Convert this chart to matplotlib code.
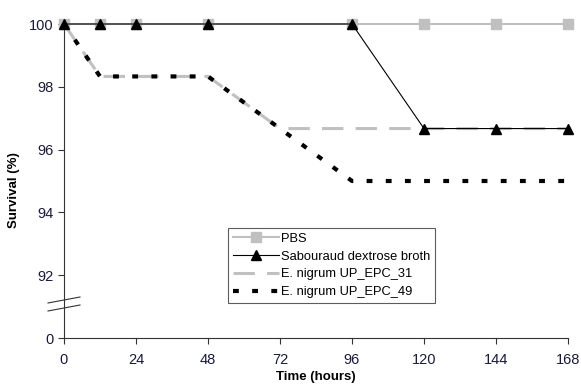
import matplotlib
matplotlib.use("Agg")
import matplotlib.pyplot as plt

plt.rcParams["font.family"] = ["Liberation Sans", "DejaVu Sans"]

# data
time_a = [0, 12, 24, 48, 96, 120, 144, 168]
pbs = [100, 100, 100, 100, 100, 100, 100, 100]
sabouraud = [100, 100, 100, 100, 100, 96.67, 96.67, 96.67]

time_b = [0, 12, 48, 72, 96, 120, 144, 168]
epc_31 = [100, 98.33, 98.33, 96.67, 96.67, 96.67, 96.67, 96.67]
epc_49 = [100, 98.33, 98.33, 96.67, 95.0, 95.0, 95.0, 95.0]

x_ticks = [0, 24, 48, 72, 96, 120, 144, 168]
y_ticks = [90, 92, 94, 96, 98, 100]
y_tick_labels = ["0", "92", "94", "96", "98", "100"]

fig = plt.figure(figsize=(5.81, 3.91), dpi=100)
ax = fig.add_axes([64 / 581, 1 - 338 / 391, 504 / 581, 314 / 391])

ax.plot(time_a, pbs, color="#c0c0c0", lw=1.5, marker="s", ms=7,
        mfc="#c0c0c0", mec="#c0c0c0", label="PBS", clip_on=False, zorder=3)
ax.plot(time_a, sabouraud, color="black", lw=0.8, marker="^", ms=7,
        mfc="black", mec="black", label="Sabouraud dextrose broth",
        clip_on=False, zorder=4)
ax.plot(time_b, epc_31, color="#c0c0c0", lw=2.2, dashes=(7, 4),
        label="E. nigrum UP_EPC_31", clip_on=False, zorder=2)
ax.plot(time_b, epc_49, color="black", lw=3, dashes=(1.4, 3.2),
        label="E. nigrum UP_EPC_49", clip_on=False, zorder=2)

ax.set_xlim(0, 168)
ax.set_ylim(90, 100)
ax.set_xticks(x_ticks)
ax.set_yticks(y_ticks)
ax.set_yticklabels(y_tick_labels)
ax.tick_params(axis="both", direction="out", length=4, width=0.8,
               labelsize=10.5, colors="#333333", labelcolor="#1a1a3a")
ax.tick_params(axis="x", pad=7)
for s in ["top", "right"]:
    ax.spines[s].set_visible(False)
for s in ["left", "bottom"]:
    ax.spines[s].set_color("#333333")
    ax.spines[s].set_linewidth(0.8)

ax.set_xlabel("Time (hours)", fontsize=9.5, fontweight="bold", labelpad=3)
ax.set_ylabel("Survival (%)", fontsize=9.5, fontweight="bold")
ax.yaxis.set_label_coords(-0.088, 0.47)

# axis break marks
for dy in (0, 8):
    fig.add_artist(plt.Line2D([48 / 581, 80 / 581],
                              [1 - (303 + dy) / 391, 1 - (297 + dy) / 391],
                              color="#333333", lw=0.8))

leg = ax.legend(loc="lower left", bbox_to_anchor=(0.325, 0.11), fontsize=9.3,
                frameon=True, fancybox=False, edgecolor="#333333",
                handlelength=3.6, handletextpad=0.1, borderpad=0.4,
                labelspacing=0.45, borderaxespad=0)
leg.get_frame().set_linewidth(0.8)

fig.savefig("out.png", dpi=100)
